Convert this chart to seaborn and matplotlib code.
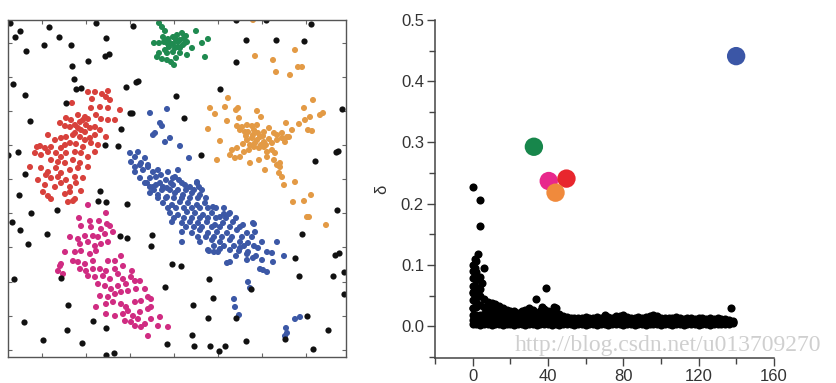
import matplotlib
matplotlib.use("Agg")
import matplotlib.pyplot as plt
from matplotlib.ticker import FormatStrFormatter
import seaborn as sns
import pandas as pd

# ---- left panel: point positions (arbitrary units, y grows downward)
noise_pts = [(2, 3), (41, 7), (88, 3), (125, 6), (12, 11), (7, 17), (51, 17), (98, 18), (36, 25), (63, 25),
             (18, 31), (97, 36), (101, 34), (80, 41), (64, 46), (5, 64), (66, 59), (130, 61), (128, 62), (118, 67),
             (73, 68), (68, 69), (17, 75), (58, 83), (122, 93), (124, 93), (168, 76), (22, 101), (113, 109), (97, 125),
             (110, 126), (10, 132), (0, 135), (17, 154), (176, 98),
             (228, 0), (258, 0), (303, 4), (238, 20), (268, 20), (296, 21), (228, 42), (212, 69), (334, 89), (193, 135),
             (330, 131), (328, 132), (307, 141),
             (11, 175), (92, 171), (90, 181), (98, 182), (119, 184), (23, 193), (49, 190), (4, 202), (12, 210), (39, 214),
             (112, 216), (119, 218), (144, 215), (20, 224), (143, 226), (164, 244), (53, 258), (6, 259), (157, 267),
             (60, 285), (16, 302), (59, 310), (85, 301), (98, 308), (35, 320), (74, 323), (159, 324), (98, 335), (106, 333),
             (329, 190), (294, 214), (173, 246), (327, 235), (331, 233), (287, 238), (201, 259), (291, 256), (325, 256),
             (336, 252), (243, 269), (336, 274), (205, 278), (185, 285), (200, 298), (299, 296), (228, 298), (320, 310),
             (184, 315), (277, 319), (238, 321), (186, 326), (202, 326), (217, 326), (211, 331), (305, 329)]

green_pts = [(151, 3), (154, 7), (157, 11), (146, 23), (151, 23), (156, 22), (160, 19), (165, 17), (169, 15), (174, 13),
             (176, 18), (179, 22), (175, 25), (170, 27), (165, 24), (161, 27), (157, 30), (151, 33), (149, 37), (154, 39),
             (159, 40), (163, 42), (166, 45), (168, 38), (172, 33), (179, 35), (184, 28), (188, 11), (194, 23), (200, 19),
             (197, 37), (159, 33), (165, 32), (162, 23), (172, 20), (177, 23), (155, 17), (168, 20), (170, 22), (178, 16),
             (167, 28), (172, 28), (160, 24)]

orange_pts = [(245, 0), (247, 36), (265, 40), (268, 52), (282, 55), (287, 30), (290, 47), (294, 47),
              (220, 78), (202, 88), (207, 94), (217, 87), (230, 88), (228, 90), (249, 91), (219, 101), (231, 98),
              (253, 97), (200, 109), (229, 106), (234, 107), (239, 105), (244, 106), (249, 105), (232, 110), (237, 112),
              (246, 110), (256, 112), (261, 108), (266, 113), (269, 115), (274, 113), (279, 117), (284, 110), (278, 103),
              (291, 104), (297, 100), (302, 97), (296, 88), (305, 80), (312, 95), (315, 93), (300, 110), (304, 111),
              (212, 121), (239, 120), (244, 118), (249, 120), (252, 117), (256, 122), (261, 119), (264, 123), (269, 120),
              (274, 118), (277, 122), (281, 117), (224, 130), (229, 128), (236, 132), (241, 130), (246, 127), (251, 128),
              (256, 127), (259, 132), (264, 130), (267, 133), (222, 135), (227, 138), (232, 137), (242, 143), (251, 140),
              (259, 137), (266, 140), (269, 145), (272, 143), (209, 140), (257, 150), (271, 153), (274, 157), (276, 165),
              (287, 162), (272, 147), (285, 182), (296, 181), (303, 175), (299, 197), (301, 197), (318, 205),
              (240, 112), (245, 115), (250, 113), (255, 116), (238, 116), (247, 123), (253, 125), (258, 125), (235, 124),
              (242, 125)]

red_pts = [(80, 72), (87, 72), (94, 74), (100, 71), (102, 80), (98, 77), (84, 79), (64, 83), (100, 88), (112, 90),
           (83, 88), (92, 87), (77, 97), (80, 99), (75, 100), (93, 99), (100, 100), (58, 98), (63, 100),
           (52, 103), (57, 106), (62, 107), (67, 105), (70, 108), (73, 110), (77, 112), (82, 108), (87, 107), (92, 110),
           (107, 100), (98, 117), (40, 115), (47, 120), (53, 118), (58, 117), (65, 115), (67, 113), (72, 117), (77, 120),
           (82, 118), (87, 115), (32, 126), (37, 128), (43, 127), (53, 128), (57, 125), (62, 123), (68, 124), (75, 127),
           (83, 123), (90, 125), (27, 133), (33, 135), (40, 132), (48, 133), (53, 137), (58, 133), (67, 132), (73, 133),
           (80, 137), (87, 132), (43, 140), (50, 142), (57, 143), (65, 140), (72, 143), (22, 147), (33, 148), (40, 152),
           (48, 148), (53, 153), (62, 150), (70, 148), (80, 147), (30, 160), (38, 155), (43, 158), (50, 157), (58, 160),
           (67, 157), (75, 158), (37, 165), (47, 167), (53, 163), (62, 167), (68, 163), (35, 172), (40, 176), (43, 179),
           (57, 174), (62, 172), (67, 179), (73, 171), (60, 182), (65, 181), (29, 127), (72, 102), (78, 105), (70, 95),
           (88, 95)]

magenta_pts = [(98, 193), (80, 185), (71, 198), (82, 201), (91, 201), (99, 204), (102, 206), (73, 206), (83, 207),
               (93, 209), (105, 212), (62, 217), (70, 219), (77, 216), (85, 216), (90, 217), (97, 214), (72, 224),
               (80, 222), (87, 226), (93, 224), (100, 222), (57, 232), (67, 232), (73, 231), (82, 234), (88, 231),
               (113, 236), (107, 241), (100, 241), (65, 241), (70, 242), (77, 244), (85, 241), (52, 246), (50, 251),
               (55, 254), (53, 244), (72, 249), (78, 251), (85, 249), (92, 249), (98, 251), (107, 249), (115, 246),
               (80, 256), (87, 257), (95, 256), (102, 259), (110, 254), (115, 259), (124, 251), (123, 257),
               (90, 264), (97, 266), (103, 269), (110, 266), (118, 264), (127, 261), (132, 261), (92, 276), (100, 277),
               (107, 274), (113, 272), (120, 271), (128, 269), (137, 269), (88, 287), (98, 284), (105, 282), (113, 284),
               (118, 287), (127, 282), (133, 281), (140, 277), (143, 279), (98, 294), (107, 296), (115, 294), (120, 291),
               (125, 296), (132, 292), (140, 289), (143, 287), (117, 301), (123, 302), (130, 299), (137, 304),
               (143, 299), (152, 297), (127, 306), (133, 307), (150, 306), (160, 307), (140, 316)]

blue_pts = [(142, 93), (152, 103), (154, 106), (147, 113), (145, 115), (162, 118), (157, 122), (172, 126), (181, 138),
            (159, 89), (122, 133), (127, 137), (130, 132), (123, 142), (127, 147), (133, 143), (137, 138), (140, 147),
            (145, 152), (148, 157), (153, 155), (158, 160), (163, 163), (167, 157), (127, 152), (132, 158), (137, 163),
            (142, 167), (148, 165), (155, 167), (171, 160), (177, 165), (189, 162), (191, 167), (135, 150), (142, 158),
            (150, 150), (160, 152), (165, 158), (170, 150), (140, 145), (132, 145),
            (139, 163), (145, 167), (152, 163), (159, 168), (165, 165), (174, 163), (182, 167), (189, 163),
            (142, 173), (150, 175), (159, 177), (167, 173), (175, 175), (184, 173), (192, 175),
            (155, 183), (164, 185), (172, 182), (180, 183), (189, 185), (197, 183), (205, 187),
            (162, 193), (170, 195), (179, 192), (187, 193), (195, 195), (204, 193), (212, 197), (222, 193),
            (164, 202), (174, 203), (182, 202), (190, 203), (199, 202), (207, 205), (215, 203), (225, 202), (235, 205),
            (245, 203), (174, 212), (184, 213), (192, 210), (200, 213), (209, 212), (219, 213), (229, 210), (239, 213),
            (247, 212), (174, 222), (192, 222), (204, 220), (212, 222), (222, 220), (232, 222), (240, 223), (254, 222),
            (269, 222), (200, 230), (210, 232), (222, 230), (232, 228), (240, 232), (250, 228), (259, 232),
            (222, 242), (239, 240), (245, 238), (254, 240), (255, 250), (259, 252), (265, 242), (240, 262), (242, 268),
            (221, 194), (216, 194), (246, 204), (264, 233), (276, 236), (252, 249), (219, 243), (201, 231), (206, 232),
            (212, 229), (231, 231), (239, 234), (226, 279), (227, 287), (231, 295), (278, 308), (279, 313), (277, 316),
            (287, 299), (292, 297),
            (146, 170), (154, 170), (162, 170), (170, 170), (178, 170), (186, 170), (194, 170),
            (150, 178), (158, 178), (166, 178), (174, 178), (182, 178), (190, 178), (198, 178),
            (160, 188), (168, 188), (176, 188), (184, 188), (192, 188), (200, 188), (208, 188), (216, 188),
            (166, 198), (176, 198), (184, 198), (192, 198), (200, 198), (208, 198), (218, 198), (228, 198),
            (178, 207), (186, 207), (194, 207), (204, 207), (212, 207), (222, 207), (232, 207),
            (190, 217), (198, 217), (206, 217), (214, 217), (224, 217), (234, 217), (244, 217),
            (206, 226), (216, 226), (226, 226), (236, 226), (246, 226), (228, 236), (248, 236)]

left_xticks = [34, 78, 122, 166, 210, 254, 298]
left_yticks = [23, 57, 91, 125, 159, 193, 227, 262, 296, 330]

# ---- right panel: decision graph (rho, delta)
center_names = ["green", "blue", "magenta", "red", "orange"]
center_rho = [32.5, 139.9, 40.4, 49.8, 44.0]
center_delta = [0.293, 0.441, 0.237, 0.241, 0.218]

band_x = [0, 2, 4, 6, 8, 10, 12, 14, 16, 18, 20, 22, 24, 26, 28, 30, 32, 34, 36, 38,
          40, 42, 44, 46, 48, 50, 52, 54, 56, 58, 60, 62, 64, 66, 68, 70, 72, 74, 76, 78,
          80, 82, 84, 86, 88, 90, 92, 94, 96, 98, 100, 102, 104, 106, 108, 110, 112, 114, 116, 118,
          120, 122, 124, 126, 128, 130, 132, 134, 136, 138]
band_low = [0.004, 0.003, 0.002, 0.004, 0.003, 0.002, 0.003, 0.004, 0.002, 0.003,
            0.003, 0.002, 0.004, 0.003, 0.002, 0.003, 0.004, 0.002, 0.003, 0.003,
            0.004, 0.002, 0.003, 0.002, 0.003, 0.004, 0.003, 0.002, 0.003, 0.004,
            0.002, 0.003, 0.003, 0.002, 0.004, 0.003, 0.002, 0.003, 0.004, 0.003,
            0.002, 0.003, 0.003, 0.002, 0.004, 0.003, 0.002, 0.003, 0.003, 0.004,
            0.002, 0.003, 0.003, 0.002, 0.004, 0.003, 0.002, 0.003, 0.003, 0.004,
            0.002, 0.003, 0.003, 0.002, 0.004, 0.003, 0.003, 0.004, 0.004, 0.005]
band_mid = [0.010, 0.009, 0.011, 0.010, 0.009, 0.010, 0.011, 0.009, 0.010, 0.010,
            0.009, 0.011, 0.010, 0.009, 0.010, 0.011, 0.010, 0.009, 0.010, 0.011,
            0.010, 0.009, 0.008, 0.010, 0.009, 0.010, 0.009, 0.008, 0.010, 0.009,
            0.008, 0.009, 0.010, 0.008, 0.009, 0.010, 0.009, 0.008, 0.009, 0.010,
            0.009, 0.008, 0.009, 0.010, 0.008, 0.009, 0.009, 0.008, 0.010, 0.009,
            0.008, 0.009, 0.008, 0.009, 0.010, 0.008, 0.009, 0.008, 0.009, 0.008,
            0.008, 0.009, 0.008, 0.007, 0.008, 0.009, 0.007, 0.008, 0.007, 0.006]
band_top = [0.055, 0.050, 0.050, 0.045, 0.040, 0.038, 0.036, 0.033, 0.030, 0.027,
            0.025, 0.024, 0.022, 0.024, 0.027, 0.029, 0.026, 0.022, 0.025, 0.028,
            0.024, 0.025, 0.029, 0.020, 0.017, 0.015, 0.014, 0.013, 0.013, 0.014,
            0.015, 0.013, 0.014, 0.015, 0.014, 0.018, 0.015, 0.014, 0.016, 0.017,
            0.018, 0.015, 0.014, 0.013, 0.015, 0.014, 0.015, 0.016, 0.018, 0.016,
            0.014, 0.013, 0.014, 0.013, 0.015, 0.014, 0.012, 0.013, 0.014, 0.012,
            0.013, 0.014, 0.012, 0.013, 0.012, 0.013, 0.011, 0.012, 0.010, 0.009]
upper_x = [0, 2, 4, 6, 8, 10, 12, 14, 16, 18, 20, 22, 24, 26, 28, 30, 32, 34, 36, 38, 40, 42, 44, 46]
upper_delta = [0.018, 0.019, 0.018, 0.020, 0.019, 0.018, 0.019, 0.018, 0.019, 0.017,
               0.016, 0.017, 0.016, 0.017, 0.018, 0.019, 0.017, 0.016, 0.017, 0.018,
               0.017, 0.016, 0.018, 0.015]
high_x = [0, 2, 4, 6, 8, 10, 12, 14]
high_delta = [0.030, 0.032, 0.034, 0.031, 0.030, 0.028, 0.027, 0.026]
column_rho = [0, 0, 0, 0, 0, 0, 0, 2, 2, 2, 2, 2, 2, 3, 4, 4, 5, 6, 1, 1]
column_delta = [0.030, 0.042, 0.054, 0.066, 0.078, 0.090, 0.100, 0.040, 0.052, 0.064,
                0.076, 0.088, 0.107, 0.118, 0.060, 0.080, 0.070, 0.095, 0.095, 0.110]
outlier_rho = [0, 3.9, 4.0, 33.5, 38.7, 36.7, 43.4, 137.2]
outlier_delta = [0.228, 0.206, 0.163, 0.044, 0.062, 0.031, 0.032, 0.029]

left_colors = {"noise": "#111111", "green": "#1f8a50", "orange": "#e39a45", "red": "#d8413c",
               "magenta": "#d02c82", "blue": "#3c58a6"}
center_colors = {"green": "#17864b", "blue": "#3b56a6", "magenta": "#e8288c", "red": "#e8262d",
                 "orange": "#f08a3c"}

sns.set_theme(style="white")
plt.rcParams["font.family"] = ["Liberation Sans", "DejaVu Sans"]

fig = plt.figure(figsize=(8.36, 3.83), dpi=100)

# left: clustered points
groups = [("noise", noise_pts), ("green", green_pts), ("orange", orange_pts), ("red", red_pts),
          ("magenta", magenta_pts), ("blue", blue_pts)]
rows = []
for name, pts in groups:
    for px, py in pts:
        rows.append({"x": px, "y": py, "group": name})
pts_df = pd.DataFrame(rows)

ax1 = fig.add_axes([8 / 836, 26 / 383, 338 / 836, 337 / 383])
sns.scatterplot(data=pts_df[pts_df.group != "noise"], x="x", y="y", hue="group", palette=left_colors,
                s=19, linewidth=0, legend=False, ax=ax1)
sns.scatterplot(data=pts_df[pts_df.group == "noise"], x="x", y="y", color=left_colors["noise"],
                s=20, linewidth=0, legend=False, ax=ax1)
ax1.set_xlim(0, 338)
ax1.set_ylim(337, 0)
ax1.set_xticks(left_xticks)
ax1.set_yticks(left_yticks)
ax1.tick_params(direction="in", length=3, width=0.8, color="#666666", top=True, right=True,
                bottom=True, left=True, labelbottom=False, labelleft=False)
ax1.set_xlabel("")
ax1.set_ylabel("")
for sp in ax1.spines.values():
    sp.set_color("#555555")
    sp.set_linewidth(1.0)

# right: decision graph
noise_rho = band_x + band_x + band_x + upper_x + high_x + column_rho + outlier_rho
noise_delta = band_low + band_mid + band_top + upper_delta + high_delta + column_delta + outlier_delta
dec_df = pd.DataFrame({"rho": noise_rho, "delta": noise_delta})
cen_df = pd.DataFrame({"rho": center_rho, "delta": center_delta, "cluster": center_names})

ax2 = fig.add_axes([435 / 836, 25 / 383, 339 / 836, 338 / 383])
sns.scatterplot(data=dec_df, x="rho", y="delta", color="black", s=34, linewidth=0, legend=False, ax=ax2)
sns.scatterplot(data=cen_df, x="rho", y="delta", hue="cluster", palette=center_colors, s=175,
                linewidth=0, legend=False, ax=ax2)
ax2.set_xlim(-20, 160)
ax2.set_ylim(-0.052, 0.5)
ax2.set_xticks([0, 40, 80, 120, 160])
ax2.set_xticks([-20, 20, 60, 100, 140], minor=True)
ax2.set_yticks([0.0, 0.1, 0.2, 0.3, 0.4, 0.5])
ax2.set_yticks([-0.05, 0.05, 0.15, 0.25, 0.35, 0.45], minor=True)
ax2.yaxis.set_major_formatter(FormatStrFormatter("%.1f"))
ax2.tick_params(which="major", direction="out", length=6, width=1.0, color="#444444",
                labelsize=12, labelcolor="#333333", pad=2, bottom=True, left=True)
ax2.tick_params(which="minor", direction="out", length=4, width=1.0, color="#444444", bottom=True, left=True)
ax2.set_xlabel("")
ax2.set_ylabel("δ", fontsize=12, color="#333333", labelpad=8)
ax2.spines["top"].set_visible(False)
ax2.spines["right"].set_visible(False)
for side in ["left", "bottom"]:
    ax2.spines[side].set_color("#444444")
    ax2.spines[side].set_linewidth(1.1)

# csdn watermark, lifted just above the axis line so it stays clear of the tick labels
fig.text(515 / 836, 1 - 345 / 383, "http://blog.csdn.net/u013709270", fontsize=17,
         color="#c4c4c4", alpha=0.8, family=["Liberation Serif", "DejaVu Serif"], va="center", zorder=10)

fig.savefig("out.png", dpi=100)
